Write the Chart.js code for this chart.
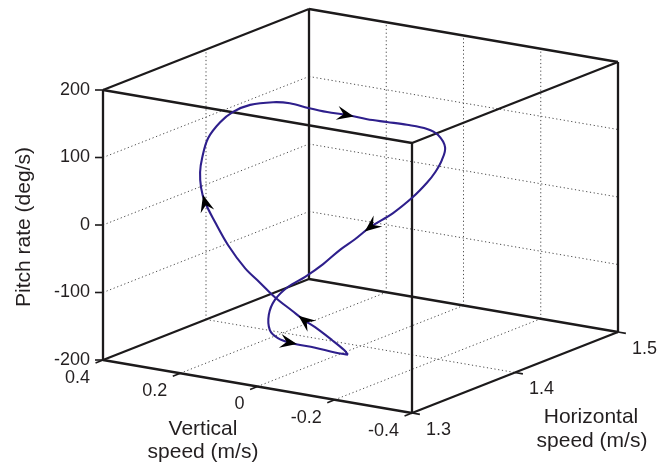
<!DOCTYPE html>
<html><head><meta charset="utf-8">
<script src="https://cdn.jsdelivr.net/npm/chart.js@4/dist/chart.umd.min.js"></script>
<style>html,body{margin:0;padding:0;background:#fff;overflow:hidden}canvas{display:block}</style>
</head><body>
<canvas id="c" width="658" height="467"></canvas>
<script>
// ---- data ----
const vTicks = [0.4, 0.2, 0, -0.2, -0.4];
const hTicks = [1.3, 1.4, 1.5];
const zTicks = [-200, -100, 0, 100, 200];
const vLimits = [-0.4, 0.4];
const hLimits = [1.3, 1.5];
const zLimits = [-200, 200];

const horizontalSpeed = [1.350,1.350,1.352,1.354,1.356,1.358,1.360,1.362,1.364,1.366,
  1.368,1.370,1.372,1.374,1.376,1.378,1.380,1.382,1.384,1.386,
  1.388,1.390,1.392,1.394,1.396,1.396,1.396,1.396,1.396,1.394,
  1.392,1.390,1.388,1.386,1.384,1.382,1.380,1.376,1.372,1.368,
  1.364,1.360,1.356,1.354,1.352,1.350,1.350,1.350];
const verticalSpeed = [-0.101,-0.091,-0.054,-0.005,0.029,0.065,0.115,0.159,0.203,0.252,
  0.291,0.323,0.338,0.346,0.346,0.336,0.310,0.282,0.243,0.189,
  0.151,0.109,0.065,0.019,-0.028,-0.079,-0.131,-0.183,-0.211,-0.235,
  -0.232,-0.220,-0.204,-0.173,-0.127,-0.073,-0.039,-0.011,0.022,0.058,
  0.092,0.115,0.120,0.112,0.086,0.049,-0.016,-0.067];
const pitchRate = [-173,-167,-157,-144,-138,-129,-115,-99,-83,-55,
  -26,0,18,39,59,88,113,130,143,151,
  152,148,145,144,141,142,143,142,136,121,
  103,85,69,46,19,-6,-26,-42,-64,-84,
  -100,-119,-139,-160,-168,-170,-171,-173];
const arrowIdx = [4, 11, 23, 35, 45];

// ---- projection of the 3D box onto the canvas ----
const VIEW = {ox:103, oy:360, vx:309, vy:53, hx:206, hy:-81, zy:-270};
function proj(v, h, z) {
  const a = (vLimits[1] - v) / (vLimits[1] - vLimits[0]);
  const b = (h - hLimits[0]) / (hLimits[1] - hLimits[0]);
  const c = (z - zLimits[0]) / (zLimits[1] - zLimits[0]);
  return {x: VIEW.ox + a*VIEW.vx + b*VIEW.hx, y: VIEW.oy + a*VIEW.vy + b*VIEW.hy + c*VIEW.zy};
}

const datasets = [];
function seg(p, q, style, order) {
  datasets.push(Object.assign({data:[p,q], showLine:true, pointRadius:0, order:order}, style));
}
const gridStyle = {borderColor:'#4a4a4a', borderWidth:1, borderDash:[1.2,2.6]};
const boxStyle = {borderColor:'#1c1a1b', borderWidth:2.3};
const tickStyle = {borderColor:'#1c1a1b', borderWidth:1.6};
const [v0, v1] = vLimits, [h0, h1] = hLimits, [z0, z1] = zLimits;

// grid: back wall h = h1
zTicks.slice(1,-1).forEach(z => seg(proj(v1,h1,z), proj(v0,h1,z), gridStyle, 3));
vTicks.slice(1,-1).forEach(v => seg(proj(v,h1,z0), proj(v,h1,z1), gridStyle, 3));
// grid: side wall v = v1
zTicks.slice(1,-1).forEach(z => seg(proj(v1,h0,z), proj(v1,h1,z), gridStyle, 3));
hTicks.slice(1,-1).forEach(h => seg(proj(v1,h,z0), proj(v1,h,z1), gridStyle, 3));
// grid: floor z = z0
vTicks.slice(1,-1).forEach(v => seg(proj(v,h0,z0), proj(v,h1,z0), gridStyle, 3));
hTicks.slice(1,-1).forEach(h => seg(proj(v1,h,z0), proj(v0,h,z0), gridStyle, 3));

// box edges
for (const h of [h0,h1]) for (const z of [z0,z1]) seg(proj(v1,h,z), proj(v0,h,z), boxStyle, 2);
for (const v of [v0,v1]) for (const z of [z0,z1]) seg(proj(v,h0,z), proj(v,h1,z), boxStyle, 2);
for (const v of [v0,v1]) for (const h of [h0,h1]) seg(proj(v,h,z0), proj(v,h,z1), boxStyle, 2);

// tick marks
const tickLen = 8;
function tickSeg(p, dx, dy) {
  const n = Math.hypot(dx, dy);
  seg(p, {x: p.x + dx/n*tickLen, y: p.y + dy/n*tickLen}, tickStyle, 2);
}
zTicks.forEach(z => tickSeg(proj(v1,h0,z), -1, 0));
vTicks.forEach(v => tickSeg(proj(v,h0,z0), -VIEW.hx, -VIEW.hy));
hTicks.forEach(h => tickSeg(proj(v0,h,z0), VIEW.vx, VIEW.vy));

// trajectory (closed loop)
const traj = verticalSpeed.map((v,i) => proj(v, horizontalSpeed[i], pitchRate[i]));
traj.push(traj[0]);
datasets.push({data: traj, showLine:true, pointRadius:0, borderColor:'#2e1f8c', borderWidth:2.1,
  tension:0.35, order:0});

// ---- plugin: arrows and text ----
const decor = {
  id:'decor',
  afterDatasetsDraw(chart) {
    const ctx = chart.ctx, xs = chart.scales.x, ys = chart.scales.y;
    const px = p => ({x: xs.getPixelForValue(p.x), y: ys.getPixelForValue(p.y)});
    ctx.save();
    ctx.fillStyle = '#000';
    arrowIdx.forEach(i => {
      const p = px(traj[i]), q = px(traj[i+1]);
      let dx = q.x - p.x, dy = q.y - p.y; const n = Math.hypot(dx,dy); dx/=n; dy/=n;
      const L = 17, W = 7;
      const tx = p.x + dx*7, ty = p.y + dy*7;
      const nx = -dy, ny = dx;
      ctx.beginPath();
      ctx.moveTo(tx, ty);
      ctx.lineTo(tx - dx*L + nx*W, ty - dy*L + ny*W);
      ctx.lineTo(tx - dx*L*0.62, ty - dy*L*0.62);
      ctx.lineTo(tx - dx*L - nx*W, ty - dy*L - ny*W);
      ctx.closePath();
      ctx.fill();
    });
    ctx.restore();
  },
  afterDraw(chart) {
    const ctx = chart.ctx, xs = chart.scales.x, ys = chart.scales.y;
    const px = p => ({x: xs.getPixelForValue(p.x), y: ys.getPixelForValue(p.y)});
    ctx.save();
    ctx.fillStyle = '#231f20';
    ctx.font = '18px "Liberation Sans", Arial, sans-serif';
    ctx.textBaseline = 'middle';
    ctx.textAlign = 'right';
    zTicks.forEach(z => { const p = px(proj(v1,h0,z)); ctx.fillText(String(z), p.x - 13, p.y); });
    vTicks.forEach(v => { const p = px(proj(v,h0,z0)); ctx.fillText(String(v), p.x - 13, p.y + 18); });
    ctx.textAlign = 'left';
    hTicks.forEach(h => { const p = px(proj(v0,h,z0)); ctx.fillText(h.toFixed(1), p.x + 14, p.y + 17); });
    ctx.font = '21px "Liberation Sans", Arial, sans-serif';
    ctx.textAlign = 'center';
    ctx.fillText('Vertical', 203, 429);
    ctx.fillText('speed (m/s)', 203, 452);
    ctx.fillText('Horizontal', 591, 417);
    ctx.fillText('speed (m/s)', 592, 441);
    ctx.translate(24, 227);
    ctx.rotate(-Math.PI/2);
    ctx.fillText('Pitch rate (deg/s)', 0, 0);
    ctx.restore();
  }
};

new Chart(document.getElementById('c'), {
  type:'scatter',
  data:{datasets},
  options:{
    responsive:false, animation:false, devicePixelRatio:1, events:[],
    layout:{padding:0, autoPadding:false},
    plugins:{legend:{display:false}, tooltip:{enabled:false}},
    scales:{
      x:{type:'linear', min:0, max:658, display:false},
      y:{type:'linear', min:0, max:467, reverse:true, display:false}
    }
  },
  plugins:[decor]
});
</script>
</body></html>
